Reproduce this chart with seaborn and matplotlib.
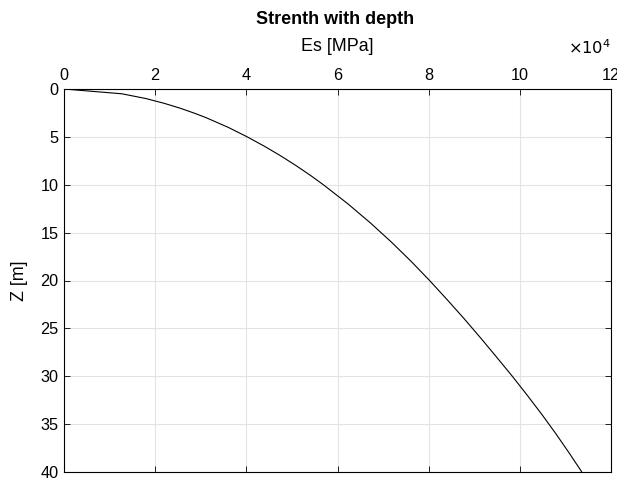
import matplotlib
matplotlib.use("Agg")
import matplotlib.pyplot as plt
from matplotlib.ticker import FuncFormatter
import pandas as pd
import seaborn as sns

# Soil stiffness profile: modulus Es [MPa] against depth Z [m]
depth_m = [0, 0.5, 1, 1.5, 2, 2.5, 3, 4, 5, 6, 7, 8, 9, 10, 12, 14, 16,
           18, 20, 22, 24, 26, 28, 30, 32, 34, 36, 38, 40]
es_mpa = [0, 12700, 18000, 22000, 25450, 28450, 31200, 36000, 40200,
          44050, 47600, 50900, 54000, 56900, 62300, 67250, 71850, 76150,
          80200, 84050, 87800, 91400, 94900, 98350, 101650, 104850,
          107900, 110800, 113600]

x_ticks = [0, 2, 4, 6, 8, 10, 12]          # in units of 1e4 MPa
y_ticks = [0, 5, 10, 15, 20, 25, 30, 35, 40]

df = pd.DataFrame({"Es": es_mpa, "Z": depth_m})

sns.set_theme(style="white")
plt.rcParams["font.family"] = ["Liberation Sans", "DejaVu Sans"]
plt.rcParams["text.color"] = "black"
plt.rcParams["axes.labelcolor"] = "black"

fig = plt.figure(figsize=(6.17, 4.82), dpi=100)
ax = fig.add_axes([64 / 617, 10 / 482, 547 / 617, 383 / 482])

sns.lineplot(data=df, x="Es", y="Z", sort=False, estimator=None,
             color="black", linewidth=0.8, ax=ax)

ax.set_xlim(0, 12e4)
ax.set_ylim(40, 0)
ax.set_xticks([t * 1e4 for t in x_ticks])
ax.set_yticks(y_ticks)
ax.xaxis.set_major_formatter(FuncFormatter(lambda v, p: f"{v / 1e4:g}"))

ax.xaxis.tick_top()
ax.xaxis.set_label_position("top")
ax.tick_params(axis="both", direction="in", length=4, width=0.6,
               colors="black", labelcolor="black", labelsize=11.7,
               top=True, bottom=True, left=True, right=True,
               labeltop=True, labelbottom=False, pad=4)
ax.grid(True, color="#e3e3e3", linewidth=0.8)
ax.set_axisbelow(True)
for s in ax.spines.values():
    s.set_color("black")
    s.set_linewidth(0.8)

ax.set_xlabel("Es [MPa]", fontsize=12.9, va="center")
ax.xaxis.set_label_coords(0.5, 1 + (89 - 47) / 383)
ax.set_ylabel("Z [m]", fontsize=12.9, va="center")
ax.yaxis.set_label_coords((19.5 - 64) / 547, 0.5)
ax.text(1.0, 1 + (89 - 48) / 383, r"$\times10^4$", transform=ax.transAxes,
        ha="right", va="center", fontsize=11.7)
fig.text(335 / 617, 1 - 19 / 482, "Strenth with depth", ha="center",
         va="center", fontsize=13, fontweight="bold")

fig.savefig("out.png", dpi=100)
